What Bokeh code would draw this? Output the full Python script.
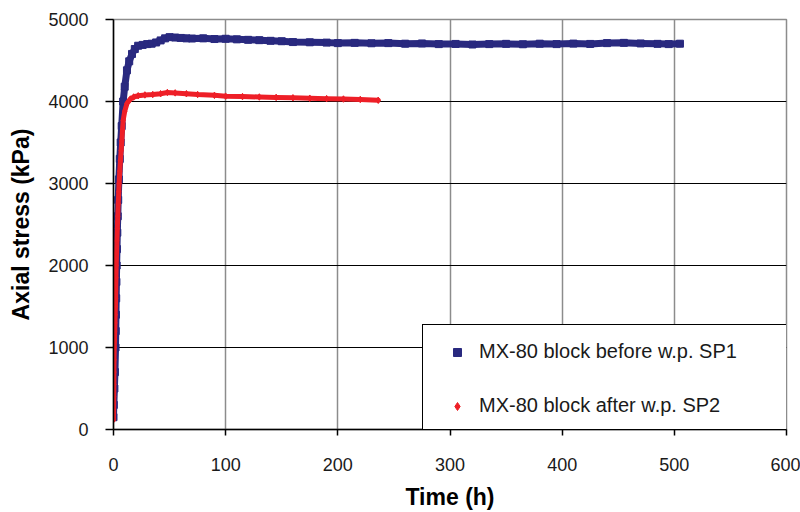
from bokeh.plotting import figure
from bokeh.models import Range1d, Legend, LegendItem, FixedTicker
from bokeh.embed import file_html
from bokeh.resources import INLINE

# Swelling pressure tests on MX-80 bentonite blocks: axial stress vs elapsed time
sp1_time = [0.0, 0.3, 0.8, 1.3, 1.8, 2.0, 2.2, 2.4, 2.6, 2.8, 3.1, 3.4, 3.8, 4.2, 4.8,
            5.6, 6.4, 7.3, 8.6, 10, 12, 14, 16.5, 19, 22, 26, 30, 34, 38, 42, 46, 50, 55,
            60, 65, 70, 80, 90, 100, 110, 120, 130, 140, 150, 160, 175, 190, 200, 215,
            230, 245, 260, 275, 290, 305, 320, 335, 350, 365, 380, 395, 410, 425, 440,
            455, 470, 485, 495, 505]
sp1_stress = [150, 300, 500, 700, 1000, 1200, 1400, 1600, 1800, 2000, 2200, 2400, 2600,
              2800, 3050, 3300, 3500, 3700, 4000, 4180, 4380, 4490, 4580, 4640, 4680, 4690,
              4700, 4705, 4720, 4745, 4770, 4785, 4780, 4775, 4770, 4768, 4770, 4762, 4765,
              4758, 4752, 4748, 4740, 4735, 4725, 4722, 4718, 4712, 4715, 4710, 4712, 4705,
              4708, 4700, 4702, 4695, 4700, 4703, 4698, 4705, 4700, 4706, 4702, 4712, 4715,
              4708, 4703, 4700, 4705]

sp2_time = [0.0, 0.1, 0.2, 0.3, 0.4, 0.5, 0.7, 0.9, 1.1, 1.3, 1.5, 1.7, 1.9, 2.0, 2.2,
            2.4, 2.7, 3.0, 3.4, 3.8, 4.2, 4.7, 5.0, 5.6, 6.2, 6.8, 7.4, 8.0, 8.6, 10, 12,
            15, 18, 22, 28, 35, 42, 48, 55, 65, 75, 90, 100, 115, 130, 145, 160, 175, 190,
            205, 220, 236]
sp2_stress = [120, 250, 400, 550, 700, 850, 1000, 1100, 1200, 1300, 1400, 1500, 1600, 1700,
              1850, 2000, 2150, 2300, 2450, 2600, 2750, 2900, 3000, 3150, 3280, 3400, 3520,
              3650, 3770, 3880, 3975, 4030, 4055, 4070, 4080, 4085, 4095, 4110, 4105, 4095,
              4085, 4075, 4065, 4060, 4055, 4050, 4045, 4040, 4035, 4030, 4025, 4015]

x_ticks = [0, 100, 200, 300, 400, 500, 600]
y_ticks = [0, 1000, 2000, 3000, 4000, 5000]

label_sp1 = "MX-80 block before w.p. SP1"
label_sp2 = "MX-80 block after w.p. SP2"

BLUE = "#29297f"
RED = "#ee1f27"
FONT = "Liberation Sans"

p = figure(width=800, height=512, output_backend="svg", toolbar_location=None,
           x_range=Range1d(0, 600), y_range=Range1d(0, 5000),
           min_border_left=113, min_border_right=14, min_border_top=19,
           min_border_bottom=82, background_fill_color="white",
           border_fill_color="white")

# series
p.line(sp1_time, sp1_stress, line_color=BLUE, line_width=7, line_join="round",
       line_cap="round")
sq = p.scatter(sp1_time, sp1_stress, marker="square", size=7, fill_color=BLUE,
               line_color=BLUE)
p.line(sp2_time, sp2_stress, line_color=RED, line_width=5, line_join="round",
       line_cap="round")
dm = p.scatter(sp2_time, sp2_stress, marker="diamond", size=6.5, fill_color=RED,
               line_color=RED)

# grid and frame
p.xgrid.grid_line_color = "#8c8c8c"
p.xgrid.grid_line_width = 1.5
p.ygrid.grid_line_color = "black"
p.ygrid.grid_line_width = 1
p.outline_line_color = "#8c8c8c"
p.outline_line_width = 1.5

# axes
p.xaxis.ticker = FixedTicker(ticks=x_ticks)
p.yaxis.ticker = FixedTicker(ticks=y_ticks)
for ax in (p.xaxis[0], p.yaxis[0]):
    ax.axis_line_color = "black"
    ax.axis_line_width = 1.5
    ax.major_tick_line_color = "black"
    ax.major_tick_line_width = 1.5
    ax.major_tick_in = 0
    ax.minor_tick_line_color = None
    ax.major_label_text_font = FONT
    ax.major_label_text_font_size = "18px"
    ax.major_label_text_color = "#1a1a1a"
    ax.axis_label_text_font = FONT
    ax.axis_label_text_font_size = "23px"
    ax.axis_label_text_font_style = "bold"
    ax.axis_label_text_color = "black"

p.xaxis.axis_label = "Time (h)"
p.xaxis.major_tick_out = 6
p.xaxis.major_label_standoff = 22
p.xaxis.axis_label_standoff = 10

p.yaxis.axis_label = "Axial stress (kPa)"
p.yaxis.major_tick_out = 8
p.yaxis.major_label_standoff = 17
p.yaxis.axis_label_standoff = 11

legend = Legend(items=[LegendItem(label=label_sp1, renderers=[sq]),
                       LegendItem(label=label_sp2, renderers=[dm])],
                location=(309, -4), orientation="vertical",
                padding=15, spacing=31, margin=0,
                glyph_width=38, glyph_height=20, label_height=20,
                label_width=293, label_standoff=3,
                label_text_font=FONT, label_text_font_size="20px",
                label_text_color="#1a1a1a",
                border_line_color="black", border_line_width=1.5,
                border_line_alpha=1.0,
                background_fill_color="white", background_fill_alpha=1.0)
p.add_layout(legend)

open("out.html", "w").write(file_html(p, INLINE))
